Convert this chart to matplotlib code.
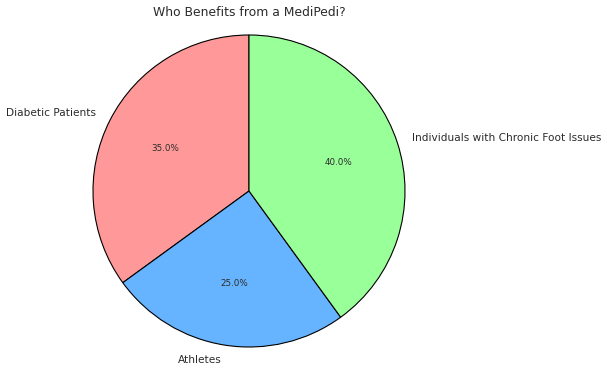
import matplotlib.pyplot as plt

labels = ["Diabetic Patients", "Athletes", "Individuals with Chronic Foot Issues"]
sizes = [35, 25, 40]
colors = ["#ff9999", "#66b3ff", "#99ff99"]

fig = plt.figure(figsize=(6.07, 3.72), dpi=100)
# pie centre ~(249,191) px, radius ~156 px; pie() sets limits to +-1.25
ax = fig.add_axes([54 / 607, -14 / 372, 390 / 607, 390 / 372])

wedges, texts, autotexts = ax.pie(sizes, labels=labels, colors=colors, autopct="%1.1f%%",
                                  startangle=90, wedgeprops={"edgecolor": "black", "linewidth": 0.8},
                                  textprops={"fontsize": 7.6, "color": "#2b2b2b"})
for t in autotexts:
    t.set_fontsize(6.3)
ax.set_aspect("equal")

fig.text(249 / 607, 1 - 12 / 372, "Who Benefits from a MediPedi?", ha="center", va="center",
         fontsize=8.9, color="#2b2b2b")

fig.savefig("out.png", dpi=100)
